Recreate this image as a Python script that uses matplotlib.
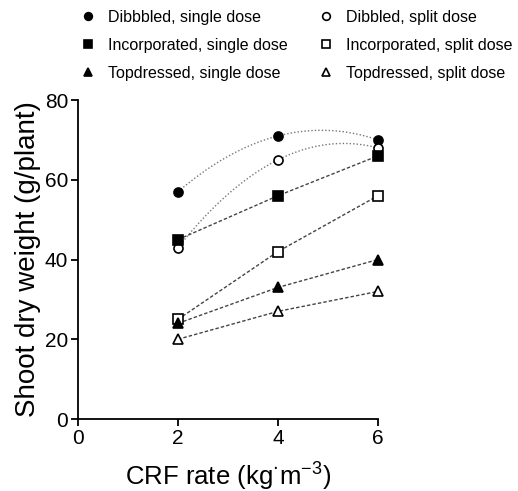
import numpy as np
import matplotlib
matplotlib.use("Agg")
import matplotlib.pyplot as plt

plt.rcParams["font.family"] = ["Liberation Sans", "DejaVu Sans"]

rates = [2, 4, 6]
dib_single = [57, 71, 70]
dib_split = [43, 65, 68]
inc_single = [45, 56, 66]
inc_split = [25, 42, 56]
top_single = [24, 33, 40]
top_split = [20, 27, 32]

labels = ["Dibbbled, single dose", "Dibbled, split dose",
          "Incorporated, single dose", "Incorporated, split dose",
          "Topdressed, single dose", "Topdressed, split dose"]

fig = plt.figure(figsize=(5.18, 4.91), dpi=100)
ax = fig.add_axes([0.1506, 0.1466, 0.5791, 0.6497])

# dibbled: quadratic trend through the points
xs = np.linspace(2, 6, 200)
for y in (dib_single, dib_split):
    coef = np.polyfit(rates, y, 2)
    ax.plot(xs, np.polyval(coef, xs), ls=(0, (1, 1.5)), color="#777777", lw=1)

# others: dashed segments
for y in (inc_single, inc_split, top_single, top_split):
    ax.plot(rates, y, ls=(0, (2.5, 1.5)), color="#444444", lw=1)

series = [
    (dib_single, "o", "black", labels[0]),
    (dib_split, "o", "white", labels[1]),
    (inc_single, "s", "black", labels[2]),
    (inc_split, "s", "white", labels[3]),
    (top_single, "^", "black", labels[4]),
    (top_split, "^", "white", labels[5]),
]
handles = {}
for y, m, fc, lab in series:
    h = ax.plot(rates, y, ls="none", marker=m, ms=6.5, mfc=fc, mec="black",
                mew=1.2, clip_on=False, zorder=5, label=lab)[0]
    handles[lab] = h

order = [labels[0], labels[2], labels[4], labels[1], labels[3], labels[5]]
fig.legend([handles[l] for l in order], order, ncol=2, frameon=False,
           loc="upper left", bbox_to_anchor=(80 / 518, 0.98), fontsize=11.5,
           borderpad=0, borderaxespad=0,
           handlelength=1.0, handletextpad=0.75, columnspacing=1.9,
           labelspacing=0.82, markerscale=0.85)

ax.set_xlim(0, 6)
ax.set_ylim(0, 80)
ax.set_xticks([0, 2, 4, 6])
ax.set_yticks([0, 20, 40, 60, 80])
ax.spines["top"].set_visible(False)
ax.spines["right"].set_visible(False)
for s in ("left", "bottom"):
    ax.spines[s].set_linewidth(1.3)
ax.tick_params(width=1.3, length=5, labelsize=15, pad=2)
ax.set_xlabel("CRF rate (kg$^{\\cdot}$m$^{\\mathregular{-3}}$)", fontsize=18.5, labelpad=8)
ax.set_ylabel("Shoot dry weight (g/plant)", fontsize=20, labelpad=3)

fig.savefig("out.png", dpi=100)
